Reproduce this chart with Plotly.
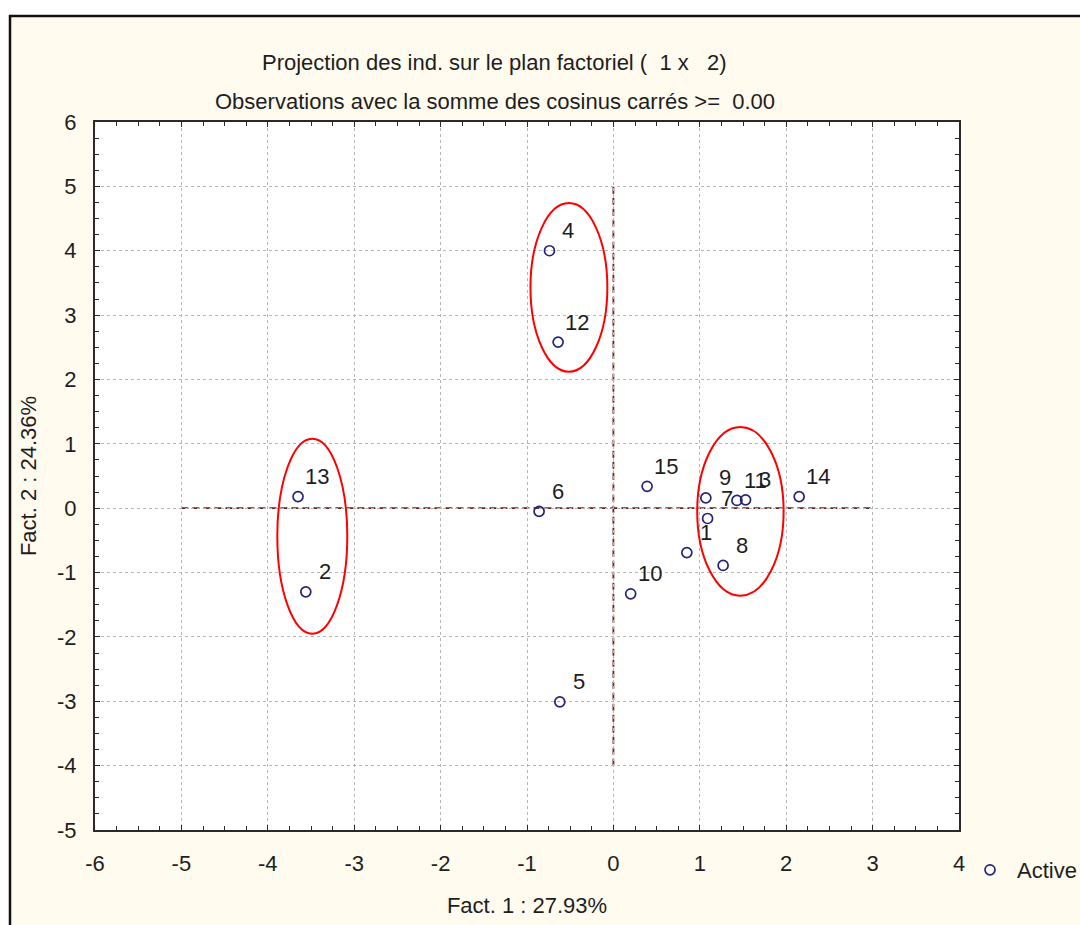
import plotly.graph_objects as go

# ---- data ----
labels = ["1", "2", "3", "4", "5", "6", "7", "8", "9", "10", "11", "12", "13", "14", "15"]
fact1 = [0.85, -3.56, 1.53, -0.74, -0.62, -0.86, 1.09, 1.27, 1.07, 0.20, 1.43, -0.64, -3.65, 2.15, 0.39]
fact2 = [-0.69, -1.30, 0.13, 4.00, -3.01, -0.05, -0.16, -0.89, 0.16, -1.33, 0.12, 2.58, 0.18, 0.18, 0.34]

x_ticks = [-6, -5, -4, -3, -2, -1, 0, 1, 2, 3, 4]
x_ticklabels = ["-6", "-5", "-4", "-3", "-2", "-1", "0", "1", "2", "3", "4"]
y_ticks = [-5, -4, -3, -2, -1, 0, 1, 2, 3, 4, 5, 6]
y_ticklabels = ["-5", "-4", "-3", "-2", "-1", "0", "1", "2", "3", "4", "5", "6"]

x_title = "Fact. 1 : 27.93%"
y_title = "Fact. 2 : 24.36%"
title_1 = "Projection des ind. sur le plan factoriel (  1 x   2)"
title_2 = "Observations avec la somme des cosinus carrés >=  0.00"
series_name = "Active"

# hand-drawn highlight ellipses (x0, x1, y0, y1) in data units
groups = [(-0.96, -0.07, 2.12, 4.74), (-3.89, -3.08, -1.95, 1.08), (0.97, 1.97, -1.36, 1.26)]

FONT = "Liberation Sans, Arial, sans-serif"
TXT = "#1e1e1e"
FS = 22

fig = go.Figure()
fig.add_trace(go.Scatter(
    x=fact1, y=fact2, mode="markers", name=series_name,
    marker=dict(symbol="circle-open", size=10, color="#23237a", line=dict(width=1.7)),
    showlegend=True, cliponaxis=False,
))

for lx, ly, lt in zip(fact1, fact2, labels):
    fig.add_annotation(x=lx, y=ly, text=lt, showarrow=False, xshift=19, yshift=20,
                       font=dict(family=FONT, size=FS, color=TXT))

shapes = []
# outer cream frame
shapes.append(dict(type="rect", xref="paper", yref="paper",
                   x0=(10 - 95) / 864, x1=(1095 - 95) / 864,
                   y0=(830 - 940) / 708, y1=(830 - 16) / 708,
                   fillcolor="#fffbef", line=dict(color="#111111", width=2.5), layer="below"))
shapes.append(dict(type="rect", xref="paper", yref="paper", x0=0, x1=1, y0=0, y1=1,
                   fillcolor="white", line=dict(width=0), layer="below"))
# reference axes
shapes.append(dict(type="line", xref="x", yref="y", x0=0, x1=0, y0=-4, y1=5,
                   line=dict(color="#6e2424", width=1.8, dash="7px,4px"), layer="below"))
shapes.append(dict(type="line", xref="x", yref="y", x0=-5, x1=3, y0=0, y1=0,
                   line=dict(color="#6e2424", width=1.8, dash="7px,4px"), layer="below"))
for gx0, gx1, gy0, gy1 in groups:
    shapes.append(dict(type="circle", xref="x", yref="y", x0=gx0, x1=gx1, y0=gy0, y1=gy1,
                       line=dict(color="#ff0000", width=2), fillcolor="rgba(0,0,0,0)"))

fig.add_annotation(xref="paper", yref="paper", x=(494 - 95) / 864, y=(830 - 48) / 708,
                   text=title_1, showarrow=False, font=dict(family=FONT, size=FS, color=TXT))
fig.add_annotation(xref="paper", yref="paper", x=(495 - 95) / 864, y=(830 - 87) / 708,
                   text=title_2, showarrow=False, font=dict(family=FONT, size=FS, color=TXT))

axis_common = dict(
    showgrid=True, gridcolor="#b5b5b5", griddash="dot", gridwidth=1,
    zeroline=False, showline=True, linecolor="#2a2a2a", linewidth=2, mirror="allticks",
    ticks="inside", ticklen=5, tickwidth=1, tickcolor="#2a2a2a",
    minor=dict(dtick=0.25, ticks="inside", ticklen=4, tickwidth=1, tickcolor="#2a2a2a", showgrid=False),
    tickmode="array", tickfont=dict(family=FONT, size=FS, color=TXT),
)

fig.update_layout(
    width=1080, height=925,
    margin=dict(l=95, r=121, t=122, b=95, autoexpand=False),
    paper_bgcolor="white", plot_bgcolor="rgba(0,0,0,0)",
    shapes=shapes,
    xaxis=dict(range=[-6, 4], tickvals=x_ticks, ticktext=x_ticklabels, ticklabelstandoff=13,
               title=dict(text=x_title, font=dict(family=FONT, size=FS, color=TXT), standoff=22),
               **axis_common),
    yaxis=dict(range=[-5, 6], tickvals=y_ticks, ticktext=y_ticklabels, ticklabelstandoff=12,
               title=dict(text=y_title, font=dict(family=FONT, size=FS, color=TXT), standoff=14),
               **axis_common),
    legend=dict(x=(963 - 95) / 864, y=(830 - 870) / 708, xanchor="left", yanchor="middle",
                itemwidth=44, bgcolor="rgba(0,0,0,0)", font=dict(family=FONT, size=FS, color=TXT)),
)

fig.write_html("out.html")
